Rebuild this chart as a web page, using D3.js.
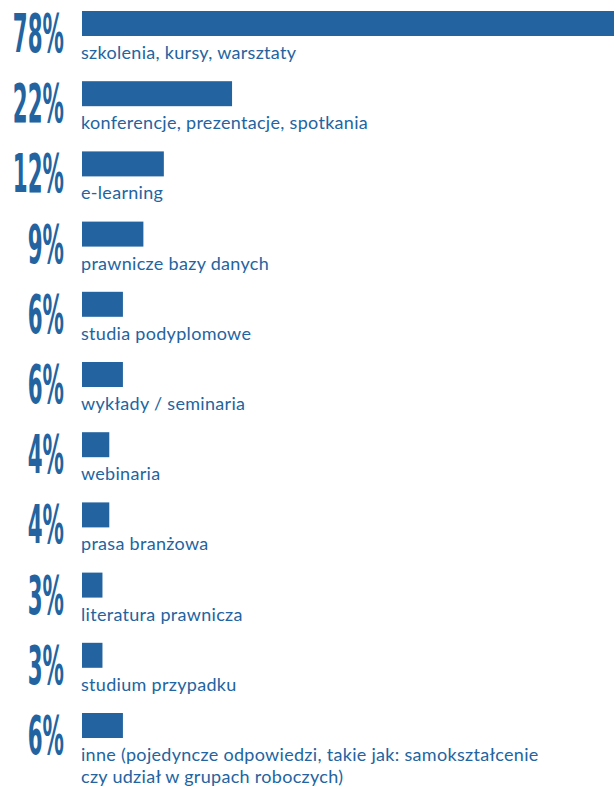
<!DOCTYPE html>
<html>
<head>
<meta charset="utf-8">
<script src="https://cdn.jsdelivr.net/npm/d3@7"></script>
<style>
  body { margin: 0; background: #fff; }
</style>
</head>
<body>
<div id="chart"></div>
<script>
const categories = [
  "szkolenia, kursy, warsztaty",
  "konferencje, prezentacje, spotkania",
  "e-learning",
  "prawnicze bazy danych",
  "studia podyplomowe",
  "wykłady / seminaria",
  "webinaria",
  "prasa branżowa",
  "literatura prawnicza",
  "studium przypadku",
  "inne (pojedyncze odpowiedzi, takie jak: samokształcenie|czy udział w grupach roboczych)"
];
const values = [78, 22, 12, 9, 6, 6, 4, 4, 3, 3, 6];

(function () {
  const width = 616, height = 789, blue = "#2364a0";
  const svg = d3.select("#chart").append("svg")
    .attr("width", width)
    .attr("height", height);

  const x = d3.scaleLinear().domain([0, 78]).range([82, 614]);
  const y = d3.scaleBand().domain(categories).range([11, 738])
    .paddingInner(0.644).paddingOuter(0);

  const rows = svg.selectAll(".row")
    .data(categories.map((c, i) => ({ cat: c, value: values[i] })))
    .enter().append("g")
    .attr("class", "row")
    .attr("transform", d => `translate(0,${y(d.cat)})`);

  rows.append("rect")
    .attr("x", x(0))
    .attr("y", 0)
    .attr("width", d => x(d.value) - x(0))
    .attr("height", y.bandwidth())
    .attr("fill", blue);

  // big condensed percentage on the left
  rows.append("text")
    .attr("transform", "translate(64,41) scale(0.44,1)")
    .attr("text-anchor", "end")
    .style("font-family", "'Liberation Sans Narrow', 'DejaVu Sans Condensed', sans-serif")
    .style("font-weight", "bold")
    .style("font-size", "54px")
    .attr("fill", blue)
    .text(d => d.value + "%");

  rows.append("text")
    .attr("x", 81)
    .attr("y", 48)
    .style("font-family", "Lato, sans-serif")
    .style("font-size", "18px")
    .style("letter-spacing", "0.3px")
    .attr("fill", blue)
    .selectAll("tspan")
    .data(d => d.cat.split("|"))
    .enter().append("tspan")
    .attr("x", 81)
    .attr("dy", (d, i) => i === 0 ? 0 : 22)
    .text(d => d);
})();
</script>
</body>
</html>
